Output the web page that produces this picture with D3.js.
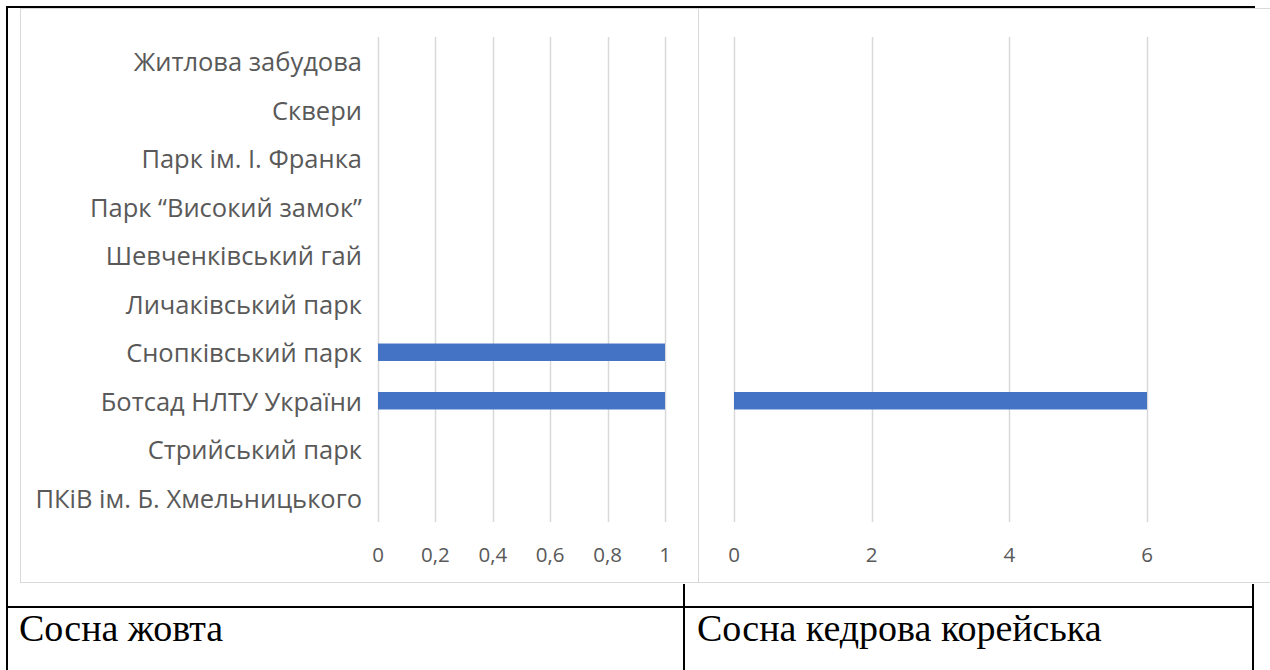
<!DOCTYPE html>
<html><head><meta charset="utf-8">
<script src="https://cdn.jsdelivr.net/npm/d3@7"></script>
<style>body{margin:0;background:#fff}svg{display:block}</style>
</head><body>
<svg id="c" width="1270" height="670"></svg>
<script>
const categories = ["Житлова забудова","Сквери","Парк ім. І. Франка","Парк “Високий замок”","Шевченківський гай","Личаківський парк","Снопківський парк","Ботсад НЛТУ України","Стрийський парк","ПКіВ ім. Б. Хмельницького"];
const valuesYellowPine = [0,0,0,0,0,0,1,1,0,0];
const valuesKoreanPine = [0,0,0,0,0,0,0,6,0,0];
const ticksLeft = [0,0.2,0.4,0.6,0.8,1];
const ticksRight = [0,2,4,6];
const tableLabels = ["Сосна жовта","Сосна кедрова корейська"];

const svg = d3.select("#c");
const grid = "#d9d9d9", txt = "#595959", bar = "#4472c4";
const fmt = d => String(d).replace(".", ",");

// chart frames
svg.append("rect").attr("x",20.5).attr("y",8.5).attr("width",678).attr("height",574).attr("fill","none").attr("stroke",grid);
svg.append("rect").attr("x",698.5).attr("y",8.5).attr("width",600).attr("height",574).attr("fill","none").attr("stroke",grid);

const y = d3.scaleBand().domain(categories).range([37,522]).paddingInner(0.64).paddingOuter(0.32);
const xL = d3.scaleLinear().domain([0,1]).range([378,665]);
const xR = d3.scaleLinear().domain([0,6]).range([734,1147]);

function panel(x, ticks, vals){
  const g = svg.append("g");
  g.selectAll("line.g").data(ticks).join("line")
    .attr("x1",d=>Math.round(x(d))+0.5).attr("x2",d=>Math.round(x(d))+0.5)
    .attr("y1",37).attr("y2",522).attr("stroke",grid).attr("stroke-width",1.5);
  g.selectAll("rect").data(categories.map((c,i)=>({c,v:vals[i]})).filter(d=>d.v>0)).join("rect")
    .attr("x",x(0)).attr("y",d=>y(d.c)).attr("width",d=>x(d.v)-x(0)).attr("height",y.bandwidth()).attr("fill",bar);
  g.selectAll("text").data(ticks).join("text")
    .attr("x",d=>x(d)).attr("y",554).attr("text-anchor","middle").attr("dominant-baseline","central")
    .attr("font-family","Open Sans").attr("font-size",20.5).attr("fill",txt).text(fmt);
}
panel(xL, ticksLeft, valuesYellowPine);
panel(xR, ticksRight, valuesKoreanPine);

svg.append("g").selectAll("text").data(categories).join("text")
  .attr("x",362).attr("y",d=>y(d)+y.bandwidth()/2).attr("text-anchor","end").attr("dominant-baseline","central")
  .attr("font-family","Open Sans").attr("font-size",25.5).attr("fill",txt).text(d=>d);

// table lines
const tl = svg.append("g").attr("stroke","#000").attr("stroke-width",2);
tl.append("line").attr("x1",7).attr("x2",1255).attr("y1",7).attr("y2",7);
tl.append("line").attr("x1",7).attr("x2",7).attr("y1",6).attr("y2",670);
tl.append("line").attr("x1",7).attr("x2",1254).attr("y1",607).attr("y2",607);
tl.append("line").attr("x1",684).attr("x2",684).attr("y1",584).attr("y2",670);
tl.append("line").attr("x1",1253).attr("x2",1253).attr("y1",584).attr("y2",670);

svg.selectAll("text.t").data(tableLabels).join("text").attr("class","t")
  .attr("x",(d,i)=>i?697:19).attr("y",641)
  .attr("font-family","Liberation Serif").attr("font-size",38).attr("fill","#000").text(d=>d);
</script>
</body></html>
